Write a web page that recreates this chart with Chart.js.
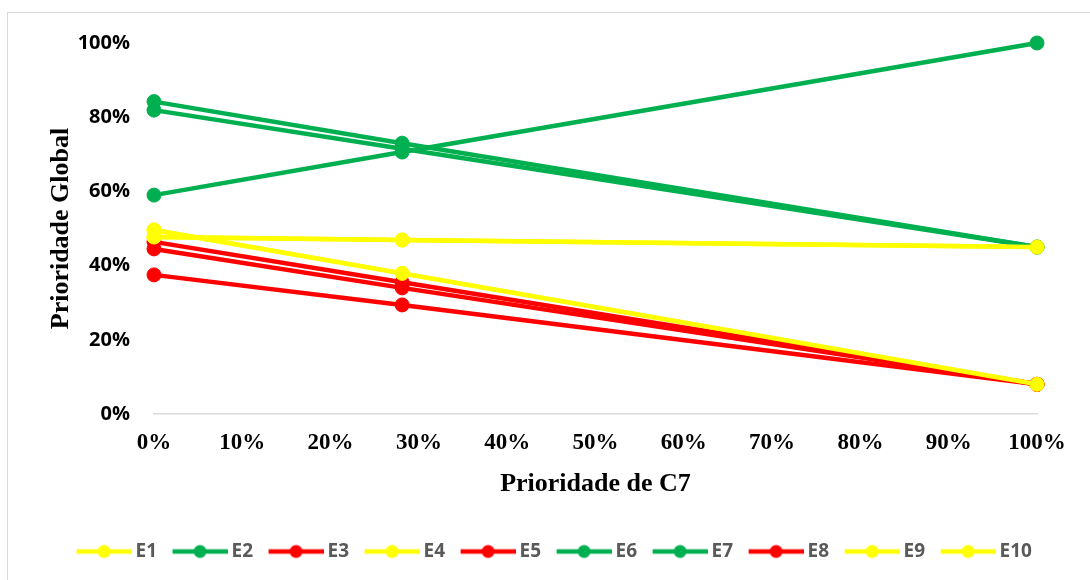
<!DOCTYPE html>
<html>
<head>
<meta charset="utf-8">
<script src="https://cdn.jsdelivr.net/npm/chart.js@4.4.1/dist/chart.umd.min.js"></script>
<style>
  html, body { margin: 0; padding: 0; background: #ffffff; }
  #wrap { position: relative; width: 1090px; height: 580px; }
</style>
</head>
<body>
<div id="wrap"><canvas id="chart" width="1090" height="580"></canvas></div>
<script>
// Weight given to criterion C7 (x) and resulting global priority of each alternative (y), in %
const c7Weights = [0, 28.1, 100];
const seriesNames = ['E1', 'E2', 'E3', 'E4', 'E5', 'E6', 'E7', 'E8', 'E9', 'E10'];
const e1  = [49.6, 37.9, 8.0];
const e2  = [84.2, 73.0, 45.0];
const e3  = [46.4, 35.5, 8.0];
const e4  = [47.7, 46.9, 45.0];
const e5  = [44.5, 34.0, 8.0];
const e6  = [81.9, 71.5, 45.0];
const e7  = [59.0, 70.6, 100.0];
const e8  = [37.5, 29.4, 8.0];
const e9  = [49.6, 37.9, 8.0];
const e10 = [47.7, 46.9, 45.0];
const xTickValues = [0, 10, 20, 30, 40, 50, 60, 70, 80, 90, 100];
const yTickValues = [0, 20, 40, 60, 80, 100];

const seriesValues = [e1, e2, e3, e4, e5, e6, e7, e8, e9, e10];

// Colour groups
const YELLOW = '#FFFF00', GREEN = '#00B050', RED = '#FF0000';
const seriesColors = [YELLOW, GREEN, RED, YELLOW, RED, GREEN, GREEN, RED, YELLOW, YELLOW];

// Layout constants (canvas pixels)
const W = 1090, H = 580;
const AREA_LEFT = 154, AREA_RIGHT = 1037, AREA_TOP = 43, AREA_BOTTOM = 414;
const PAD_LEFT = 10, PAD_BOTTOM = 9;

// Legend icon: a line with a circle marker in its middle
function legendIcon(color) {
  const cv = document.createElement('canvas');
  cv.width = 69; cv.height = 16;
  const ctx = cv.getContext('2d');
  ctx.strokeStyle = color;
  ctx.lineWidth = 4.5;
  ctx.beginPath();
  ctx.moveTo(14, 8); ctx.lineTo(69, 8);
  ctx.stroke();
  ctx.fillStyle = color;
  ctx.beginPath();
  ctx.arc(41.5, 8, 6.5, 0, Math.PI * 2);
  ctx.fill();
  return cv;
}
const icons = seriesColors.map(legendIcon);

const datasets = seriesNames.map((name, i) => ({
  label: name,
  data: c7Weights.map((x, k) => ({ x: x, y: seriesValues[i][k] })),
  borderColor: seriesColors[i],
  backgroundColor: seriesColors[i],
  pointBackgroundColor: seriesColors[i],
  pointBorderColor: seriesColors[i],
  borderWidth: 4.5,
  pointRadius: 7,
  pointBorderWidth: 1,
  pointHoverRadius: 7,
  tension: 0,
  clip: false,
  order: seriesNames.length - i   // later series are painted on top
}));

const framePlugin = {
  id: 'frame',
  beforeDraw(chart) {
    const ctx = chart.ctx;
    ctx.save();
    ctx.fillStyle = '#ffffff';
    ctx.fillRect(0, 0, chart.width, chart.height);
    ctx.strokeStyle = '#d9d9d9';
    ctx.lineWidth = 1;
    ctx.strokeRect(7.5, 12.5, 1100, 600);
    ctx.restore();
  }
};

const serifBold = (size) => ({ family: "'Liberation Serif', 'Times New Roman', serif", size: size, weight: 'bold' });
const sansBold = (size) => ({ family: "'Open Sans', sans-serif", size: size, weight: 'bold' });

new Chart(document.getElementById('chart'), {
  type: 'line',
  data: { datasets: datasets },
  plugins: [framePlugin],
  options: {
    responsive: false,
    animation: false,
    events: [],
    layout: { padding: { left: PAD_LEFT, right: 0, top: AREA_TOP, bottom: PAD_BOTTOM } },
    scales: {
      x: {
        type: 'linear',
        min: 0,
        max: 100,
        afterBuildTicks: (s) => { s.ticks = xTickValues.map(v => ({ value: v })); },
        ticks: {
          callback: (v) => v + '%',
          font: serifBold(23),
          color: '#000000',
          padding: 7,
          maxRotation: 0,
          autoSkip: false
        },
        grid: { display: false },
        border: { display: true, color: '#d9d9d9', width: 1.5 },
        title: {
          display: true,
          text: 'Prioridade de C7',
          font: serifBold(26),
          color: '#000000',
          padding: { top: 0, bottom: 35 }
        },
        afterFit: (s) => {
          s.height = H - AREA_BOTTOM - PAD_BOTTOM - s.chart.legend.height;
          s.paddingLeft = 0;
          s.paddingRight = W - AREA_RIGHT;
        }
      },
      y: {
        type: 'linear',
        min: 0,
        max: 100,
        afterBuildTicks: (s) => { s.ticks = yTickValues.map(v => ({ value: v })); },
        ticks: {
          callback: (v) => v + '%',
          font: sansBold(20),
          color: '#000000',
          padding: 16
        },
        grid: { display: false },
        border: { display: false },
        title: {
          display: true,
          text: 'Prioridade Global',
          font: serifBold(26),
          color: '#000000',
          padding: { top: 36, bottom: 0 }
        },
        afterFit: (s) => { s.width = AREA_LEFT - PAD_LEFT; }
      }
    },
    plugins: {
      tooltip: { enabled: false },
      legend: {
        position: 'bottom',
        reverse: true,
        labels: {
          usePointStyle: true,
          pointStyleWidth: 58,
          boxHeight: 16,
          padding: 7,
          color: '#595959',
          font: sansBold(19),
          generateLabels: (chart) => {
            const items = Chart.defaults.plugins.legend.labels.generateLabels(chart);
            items.forEach(it => { it.pointStyle = icons[it.datasetIndex]; });
            return items;
          }
        }
      }
    }
  }
});
</script>
</body>
</html>
